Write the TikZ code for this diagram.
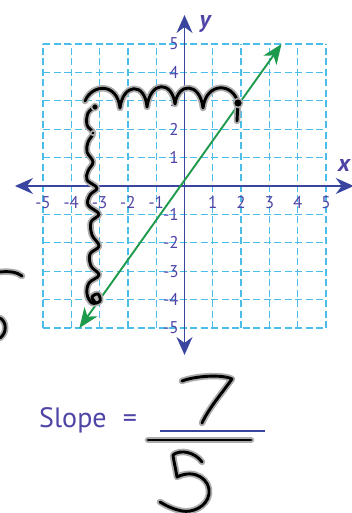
\documentclass[tikz,border=0pt]{standalone}
\usepackage{fontspec}
\setmainfont{PT Sans}
\usetikzlibrary{arrows.meta}
\definecolor{gridblue}{HTML}{4CBDE9}
\definecolor{axisblue}{HTML}{3A45A0}
\definecolor{labelblue}{HTML}{4F45A6}
\definecolor{linegreen}{HTML}{1E9A4C}
\tikzset{
  gridline/.style={gridblue, line width=1.3pt, dash pattern=on 7pt off 3.5pt},
  axisline/.style={axisblue, line width=1.5pt,
    {Stealth[length=18pt,width=16pt,inset=6pt]}-{Stealth[length=18pt,width=16pt,inset=6pt]}},
  greenline/.style={linegreen, line width=1.9pt,
    {Stealth[length=20pt,width=16pt,inset=6pt]}-{Stealth[length=20pt,width=16pt,inset=6pt]}},
  ticklabel/.style={labelblue, inner sep=0pt, font=\fontsize{17}{19}\selectfont},
  axislabel/.style={labelblue, inner sep=0pt, font=\fontsize{24}{26}\selectfont\bfseries\itshape},
  ink/.style={black, line width=2.9pt, line cap=round, line join=round,
    preaction={draw, gray!65, line width=6.5pt, line cap=round, line join=round}},
  inkdot/.style={fill=black, draw=gray!65, line width=1.5pt},
  slopetext/.style={labelblue, inner sep=0pt, font=\fontsize{28}{30}\selectfont},
}
\begin{document}
\begin{tikzpicture}[x=1pt,y=-1pt]
\useasboundingbox (0,0) rectangle (352,513);
\fill[white] (0,0) rectangle (352,513);
\begin{scope}[shift={(184.5pt,-186pt)}, x=28.3pt, y=28.4pt]
  % grid
  \foreach \i in {-5,...,5} {
    \draw[gridline] (\i,-5) -- (\i,5);
    \draw[gridline] (-5,\i) -- (5,\i);
  }
  % axes
  \coordinate (xl) at (-5.99,0);
  \coordinate (xr) at (5.98,0);
  \coordinate (yb) at (0,-5.95);
  \coordinate (yt) at (0,6.02);
  \draw[axisline] (xl) -- (xr);
  \draw[axisline] (yb) -- (yt);
  % tick labels
  \foreach \i in {-5,...,-1,1,2,3,4,5} {
    \node[ticklabel] (xt\i) at (\i,-0.57) {\i};
    \node[ticklabel, anchor=east] (yt\i) at (-0.2,\i) {\i};
  }
  % green line
  \coordinate (gA) at (-3.714,-5);
  \coordinate (gB) at (3.429,5);
  \draw[greenline] (gA) -- (gB);
\end{scope}
% axis names
\node[axislabel] (ylab) at (205,24) {y};
\node[axislabel] (xlab) at (344,165) {x};
% handwritten top scribble
\coordinate (t0) at (85,101);
\coordinate (t1) at (120,108);
\coordinate (t2) at (147,107);
\coordinate (t3) at (175,104);
\coordinate (t4) at (203,108);
\coordinate (t5) at (238,103);
\coordinate (t6) at (237,121);
\draw[ink] (t0) .. controls (92,84) and (117,82) .. (t1)
  .. controls (123,83) and (145,82) .. (t2)
  .. controls (150,81) and (172,80) .. (t3)
  .. controls (178,82) and (200,82) .. (t4)
  .. controls (206,82) and (233,82) .. (t5) -- (t6);
\fill[inkdot] (t5) circle (4.5pt);
% handwritten vertical scribble
\coordinate (v0) at (95,107);
\draw[ink] plot[smooth, tension=0.6] coordinates {
  (95,107) (88,113) (87,125) (93,133) (88,142) (87,152) (93,162)
  (88,171) (87,180) (97,188) (90,195) (88,205) (99,214) (91,222)
  (92,235) (99,246) (90,254) (91,266) (99,275) (89,283) (87,294)
  (92,303) (100,301) (98,294) (92,297) (95,302)};
\fill[inkdot] (v0) circle (3.5pt);
\fill[inkdot] (93,133) circle (2.2pt);
% partial handwritten 5 at the left edge
\coordinate (p0) at (0,272);
\coordinate (p1) at (22,276);
\coordinate (p2) at (0,318);
\coordinate (p3) at (0,338);
\draw[ink] (p0) .. controls (9,271) and (17,272) .. (p1);
\draw[ink] (p2) .. controls (7,322) and (7,333) .. (p3);
% Slope text
\node[slopetext, anchor=base west] (slope) at (39,427) {Slope};
\node[slopetext, anchor=base] (eq) at (130,427) {=};
\coordinate (bl0) at (160,431);
\coordinate (bl1) at (265,431);
\draw[axisblue, line width=1.3pt] (bl0) -- (bl1);
% handwritten 7
\coordinate (s0) at (182,381);
\coordinate (s1) at (232,379);
\coordinate (s2) at (202,423);
\draw[ink] (s0) .. controls (195,376) and (222,374) .. (s1)
  .. controls (222,393) and (209,408) .. (s2);
% handwritten fraction bar
\coordinate (f0) at (148,440);
\coordinate (f1) at (251,440);
\draw[ink] (f0) -- (f1);
% handwritten 5
\coordinate (n0) at (202,462);
\coordinate (n1) at (177,477);
\coordinate (n2) at (160,502);
\draw[ink] (n0) .. controls (195,452) and (180,449) .. (173,455)
  .. controls (174,463) and (176,470) .. (n1)
  .. controls (195,468) and (211,480) .. (209,494)
  .. controls (207,507) and (192,513) .. (182,511)
  .. controls (172,509) and (165,505) .. (n2);
\end{tikzpicture}
\end{document}
